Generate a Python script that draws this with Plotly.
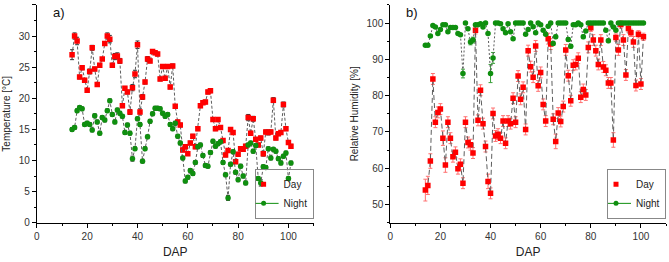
import plotly.graph_objects as go

W, H = 669, 262

dap = [14, 15, 16, 17, 18, 19, 20, 21, 22, 23,
       24, 25, 26, 27, 28, 29, 30, 31, 32, 33,
       34, 35, 36, 37, 38, 39, 40, 41, 42, 43,
       44, 45, 46, 47, 48, 49, 50, 51, 52, 53,
       54, 55, 56, 57, 58, 59, 60, 61, 62, 63,
       64, 65, 66, 67, 68, 69, 70, 71, 72, 73,
       74, 75, 76, 77, 78, 79, 80, 81, 82, 83,
       84, 85, 86, 87, 88, 89, 90, 91, 92, 93,
       94, 95, 96, 97, 98, 99, 100, 101]

temp_day = [27.0, 30.0, 29.2, 23.4, 24.9, 22.9, 21.3, 24.3, 28.1, 24.7,
            22.2, 25.3, 26.3, 28.8, 30.0, 29.5, 25.3, 26.7, 26.8, 26.0,
            18.8, 21.6, 21.0, 17.8, 21.7, 23.9, 28.6, 17.8, 20.2, 22.6,
            26.3, 26.0, 27.5, 27.3, 27.1, 23.1, 25.1, 23.2, 25.1, 21.8,
            25.2, 18.7, 16.2, 15.7, 11.7, 12.2, 11.1, 12.8, 13.9, 12.2,
            15.1, 18.8, 19.3, 19.4, 21.0, 21.2, 16.6, 15.1, 16.6, 15.3,
            13.2, 10.9, 11.6, 15.0, 14.5, 9.8, 11.0, 11.9, 11.8, 12.3,
            16.9, 14.4, 16.7, 13.4, 12.5, 13.6, 11.1, 14.6, 14.5, 14.6,
            19.7, 13.6, 14.3, 14.5, 19.0, 15.1, 12.9, 12.3]

temp_night = [15.0, 15.3, 18.0, 18.5, 18.3, 15.8, 16.0, 15.8, 14.9, 17.2,
              16.2, 14.4, 16.9, 16.5, 18.0, 19.6, 17.4, 16.2, 18.1, 17.6,
              17.1, 14.5, 15.7, 14.4, 10.3, 11.9, 16.7, 15.8, 9.9, 11.9,
              13.8, 16.3, 17.5, 18.4, 18.4, 18.3, 17.6, 17.1, 17.4, 15.8,
              15.1, 16.0, 13.9, 12.8, 10.4, 6.7, 7.3, 8.4, 7.9, 9.7,
              12.2, 12.5, 10.8, 9.2, 9.1, 11.3, 13.1, 12.3, 12.7, 13.0,
              9.7, 7.7, 4.0, 9.4, 11.4, 8.1, 6.9, 9.1, 7.5, 6.4,
              12.5, 12.8, 11.5, 12.4, 7.1, 6.4, 9.0, 8.9, 11.9, 10.4,
              11.8, 11.5, 10.3, 9.6, 10.7, 11.2, 7.1, 9.6]

rh_day = [54.0, 55.3, 62.0, 84.6, 72.7, 75.4, 76.3, 68.3, 60.9, 72.7,
          68.3, 63.2, 64.4, 59.9, 61.1, 55.9, 72.7, 67.1, 66.5, 64.2,
          98.0, 73.2, 81.5, 72.3, 66.0, 56.4, 53.1, 75.1, 68.9, 69.4,
          68.3, 73.0, 66.9, 73.0, 72.3, 79.3, 72.7, 85.4, 79.0, 82.3,
          70.7, 92.4, 88.0, 85.1, 93.7, 82.7, 86.4, 77.6, 73.0, 95.7,
          94.2, 73.5, 67.4, 75.2, 72.9, 77.0, 92.6, 85.5, 78.6, 88.4,
          88.6, 90.3, 79.6, 81.7, 80.2, 93.3, 98.7, 95.3, 92.4, 88.6,
          95.3, 87.9, 87.0, 83.5, 83.5, 67.8, 96.0, 92.6, 99.6, 95.3,
          85.7, 98.5, 97.3, 94.8, 82.8, 96.9, 83.2, 96.2]

rh_night = [93.9, 93.9, 96.4, 99.3, 98.9, 97.1, 98.2, 99.5, 99.5, 97.6,
            98.8, 98.8, 98.8, 97.1, 96.8, 86.1, 100.0, 98.4, 94.8, 95.3,
            99.5, 99.5, 99.8, 98.9, 100.0, 97.1, 86.1, 90.4, 100.0, 100.0,
            99.8, 98.4, 97.3, 99.8, 97.6, 95.7, 100.0, 100.0, 100.0, 100.0,
            96.9, 98.2, 100.0, 99.0, 97.3, 100.0, 99.5, 98.0, 96.9, 99.1,
            100.0, 94.4, 96.2, 100.0, 100.0, 100.0, 100.0, 95.5, 93.6, 99.5,
            99.5, 100.0, 99.5, 96.2, 97.8, 100.0, 100.0, 100.0, 100.0, 100.0,
            100.0, 100.0, 98.0, 95.1, 100.0, 98.9, 98.0, 100.0, 100.0, 100.0,
            100.0, 100.0, 100.0, 100.0, 100.0, 100.0, 100.0, 100.0]

temp_day_err = [0.8, 0.5, 0.6, 0.3, 0.3, 0.3, 0.2, 0.4, 0.4, 0.3,
                0.3, 0.3, 0.2, 0.3, 0.5, 0.6, 0.3, 0.5, 0.5, 0.4,
                0.3, 0.3, 0.3, 0.4, 0.5, 0.6, 0.6, 0.5, 0.4, 0.3,
                0.4, 0.3, 0.3, 0.3, 0.3, 0.3, 0.3, 0.3, 0.3, 0.3,
                0.3, 0.3, 0.3, 0.3, 0.3, 0.3, 0.3, 0.3, 0.3, 0.3,
                0.3, 0.3, 0.3, 0.3, 0.3, 0.3, 0.3, 0.3, 0.3, 0.3,
                0.3, 0.3, 0.3, 0.3, 0.3, 0.3, 0.3, 0.3, 0.3, 0.3,
                0.5, 0.3, 0.4, 0.3, 0.3, 0.3, 0.4, 0.3, 0.4, 0.3,
                0.4, 0.3, 0.3, 0.3, 0.4, 0.3, 0.3, 0.3]

temp_night_err = [0.3, 0.3, 0.3, 0.3, 0.3, 0.3, 0.3, 0.3, 0.3, 0.3,
                  0.3, 0.3, 0.3, 0.3, 0.3, 0.3, 0.3, 0.3, 0.3, 0.3,
                  0.3, 0.3, 0.3, 0.3, 0.4, 0.3, 0.3, 0.3, 0.3, 0.3,
                  0.3, 0.3, 0.3, 0.3, 0.3, 0.3, 0.3, 0.3, 0.3, 0.3,
                  0.3, 0.3, 0.3, 0.3, 0.3, 0.3, 0.3, 0.3, 0.3, 0.3,
                  0.3, 0.3, 0.3, 0.3, 0.3, 0.3, 0.3, 0.3, 0.3, 0.3,
                  0.3, 0.3, 0.4, 0.3, 0.3, 0.3, 0.3, 0.3, 0.3, 0.3,
                  0.3, 0.3, 0.3, 0.3, 0.3, 0.5, 0.3, 0.3, 0.3, 0.3,
                  0.3, 0.3, 0.3, 0.3, 0.3, 0.3, 0.3, 0.3]

rh_day_err = [3.0, 2.5, 2.0, 1.5, 1.5, 1.5, 1.5, 2.0, 2.0, 1.5,
              1.5, 1.5, 1.5, 1.5, 1.5, 1.5, 1.5, 1.5, 1.5, 1.5,
              1.0, 1.5, 1.5, 1.5, 1.5, 2.0, 1.5, 1.5, 1.5, 1.5,
              1.5, 1.5, 1.5, 1.5, 1.5, 1.5, 1.5, 1.5, 1.5, 1.5,
              1.5, 1.5, 1.5, 1.5, 1.5, 1.5, 1.5, 1.5, 1.5, 1.5,
              1.5, 1.5, 2.0, 1.5, 1.5, 1.5, 1.5, 1.5, 1.5, 1.5,
              1.5, 1.5, 1.5, 1.5, 1.5, 1.5, 1.0, 1.5, 1.5, 1.5,
              1.5, 1.5, 1.5, 1.5, 1.5, 2.0, 1.0, 1.5, 1.0, 1.5,
              1.5, 1.0, 1.0, 1.5, 1.5, 1.0, 1.5, 1.0]

rh_night_err = [0.3, 0.3, 0.3, 0.3, 0.3, 0.3, 0.3, 0.3, 0.3, 0.3,
                0.3, 0.3, 0.3, 0.3, 0.3, 1.2, 0.3, 0.3, 0.8, 0.8,
                0.3, 0.3, 0.3, 0.3, 0.3, 0.3, 2.5, 1.5, 0.3, 0.3,
                0.3, 0.3, 0.3, 0.3, 0.3, 0.3, 0.3, 0.3, 0.3, 0.3,
                0.3, 0.3, 0.3, 0.3, 0.3, 0.3, 0.3, 0.3, 0.3, 0.3,
                0.3, 0.5, 0.5, 0.3, 0.3, 0.3, 0.3, 0.5, 0.5, 0.3,
                0.3, 0.3, 0.3, 0.5, 0.3, 0.3, 0.3, 0.3, 0.3, 0.3,
                0.3, 0.3, 0.3, 0.5, 0.3, 0.3, 0.3, 0.3, 0.3, 0.3,
                0.3, 0.3, 0.3, 0.3, 0.3, 0.3, 0.3, 0.3]

RED = "#ff0000"
GREEN = "#0f8f0f"
LINE = "#5e5e5e"
FONT = "Liberation Sans, Arial, sans-serif"


def px_x(p):
    return p / W


def px_y(p):
    return 1 - p / H


fig = go.Figure()


def add_series(x, y, err, color, symbol, xa, ya, errcolor, dash):
    fig.add_trace(go.Scatter(
        x=x, y=y, xaxis=xa, yaxis=ya, mode="lines+markers",
        line=dict(color=LINE, width=1, dash=dash),
        marker=dict(color=color, symbol=symbol, size=5.5, line=dict(width=0)),
        error_y=dict(type="data", array=err, thickness=1, width=2, color=errcolor),
        showlegend=False, hoverinfo="skip"))


add_series(dap, temp_day, temp_day_err, RED, "square", "x", "y", "#333333", "3px,2px")
add_series(dap, temp_night, temp_night_err, GREEN, "circle", "x", "y", "#333333", "3px,2px")
add_series(dap, rh_day, rh_day_err, RED, "square", "x2", "y2", "#ff7070", "5px,3px")
add_series(dap, rh_night, rh_night_err, GREEN, "circle", "x2", "y2", "#3aa03a", "2px,2px")

# legend entries
for lg in ["legend", "legend2"]:
    xa = "x" if lg == "legend" else "x2"
    ya = "y" if lg == "legend" else "y2"
    fig.add_trace(go.Scatter(x=[None], y=[None], mode="markers", name="Day",
                             marker=dict(color=RED, symbol="square", size=5),
                             legend=lg, xaxis=xa, yaxis=ya))
    fig.add_trace(go.Scatter(x=[None], y=[None], mode="lines+markers", name="Night",
                             marker=dict(color=GREEN, symbol="circle", size=5),
                             line=dict(color=GREEN, width=1),
                             legend=lg, xaxis=xa, yaxis=ya))

tickfont = dict(family=FONT, size=10, color="#333333")
axis_common = dict(showline=True, linecolor="black", linewidth=1, ticks="outside",
                   ticklen=4, tickwidth=1, tickcolor="black", showgrid=False,
                   zeroline=False, tickfont=tickfont)

y_dom = [px_y(228), px_y(5)]

legend_common = dict(xanchor="right", yanchor="bottom",
                     bgcolor="rgba(255,255,255,0)", bordercolor="#888888", borderwidth=1,
                     font=dict(size=10, family=FONT), itemwidth=30, tracegroupgap=0,
                     indentation=-12)

fig.update_layout(
    width=W, height=H,
    margin=dict(l=0, r=0, t=0, b=0),
    paper_bgcolor="white", plot_bgcolor="white",
    font=dict(family=FONT, color="#222222"),
    xaxis=dict(domain=[px_x(34), px_x(312)], range=[0, 110], dtick=20, tick0=0,
               minor=dict(dtick=10, ticks="outside", ticklen=2, tickcolor="black"),
               title=dict(text="DAP", font=dict(size=12, family=FONT), standoff=6),
               anchor="y", **axis_common),
    yaxis=dict(domain=y_dom, range=[0, 35], dtick=5, tick0=0,
               minor=dict(dtick=2.5, ticks="outside", ticklen=2, tickcolor="black"),
               title=dict(text="Temperature [°C]", font=dict(size=10, family=FONT), standoff=6),
               anchor="x", **axis_common),
    xaxis2=dict(domain=[px_x(389), px_x(666)], range=[0, 110], dtick=20, tick0=0,
                minor=dict(dtick=10, ticks="outside", ticklen=2, tickcolor="black"),
                title=dict(text="DAP", font=dict(size=12, family=FONT), standoff=6),
                anchor="y2", **axis_common),
    yaxis2=dict(domain=y_dom, range=[45, 105], dtick=10, tick0=0,
                minor=dict(dtick=5, ticks="outside", ticklen=2, tickcolor="black"),
                title=dict(text="Relative Humidity [%]", font=dict(size=10, family=FONT), standoff=6),
                anchor="x2", **axis_common),
    legend=dict(x=px_x(312), y=px_y(224), **legend_common),
    legend2=dict(x=px_x(666), y=px_y(224), **legend_common),
    annotations=[
        dict(text="a)", x=px_x(48), y=px_y(13), xref="paper", yref="paper",
             xanchor="left", yanchor="middle", showarrow=False,
             font=dict(size=13, family=FONT, color="#111111")),
        dict(text="b)", x=px_x(403), y=px_y(13), xref="paper", yref="paper",
             xanchor="left", yanchor="middle", showarrow=False,
             font=dict(size=13, family=FONT, color="#111111")),
    ],
)

fig.write_html("out.html")
